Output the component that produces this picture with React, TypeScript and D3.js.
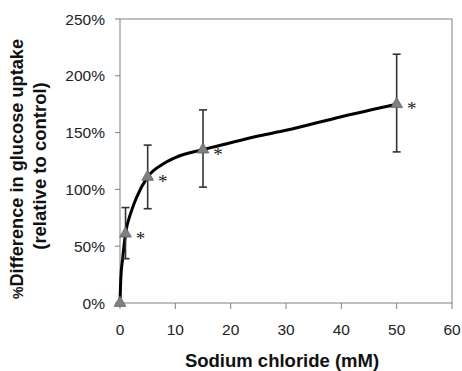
import React from "react";
import * as d3 from "d3";

const concentrations = [0, 1, 5, 15, 50];
const uptakeMeans = [0, 61, 111, 135, 175];
const errLow = [0, 39, 83, 102, 133];
const errHigh = [0, 84, 139, 170, 219];
const significant = [false, true, true, true, true];

// fitted curve
const curveX = [0, 0.15, 0.5, 1, 2, 3, 5, 8, 10, 15, 20, 25, 30, 40, 50];
const curveY = [0, 22, 40, 61, 80, 93, 111, 123, 128, 135, 141, 147, 152, 164, 175];

const xTicks = [0, 10, 20, 30, 40, 50, 60];
const yTicks = [0, 50, 100, 150, 200, 250];

const W = 462;
const H = 371;
const M = { left: 120, right: 10, top: 19, bottom: 68 };

export default function App() {
  const x = d3.scaleLinear().domain([0, 60]).range([M.left, W - M.right]);
  const y = d3.scaleLinear().domain([0, 250]).range([H - M.bottom, M.top]);
  const line = d3
    .line<number>()
    .x((_, i) => x(curveX[i]))
    .y((d) => y(d))
    .curve(d3.curveMonotoneX);
  const tri = d3.symbol().type(d3.symbolTriangle).size(60)();
  const axisColor = "#808080";
  const font = "'Liberation Sans', Arial, sans-serif";
  const x0 = x(0), x1 = x(60), y0 = y(0), y1 = y(250);

  return (
    <svg
      width={W}
      height={H}
      style={{ position: "absolute", left: 0, top: 0, background: "#fff" }}
      fontFamily={font}
    >
      {/* plot frame */}
      <rect x={x0} y={y1} width={x1 - x0} height={y0 - y1} fill="none" stroke={axisColor} strokeWidth={1} />
      {/* y ticks */}
      {yTicks.map((t) => (
        <g key={"y" + t}>
          <line x1={x0 - 5} x2={x0} y1={y(t)} y2={y(t)} stroke={axisColor} />
          <text x={x0 - 15} y={y(t)} dy="0.36em" textAnchor="end" fontSize={15.5} fill="#222">
            {t + "%"}
          </text>
        </g>
      ))}
      {/* x ticks */}
      {xTicks.map((t) => (
        <g key={"x" + t}>
          <line x1={x(t)} x2={x(t)} y1={y0} y2={y0 + 6} stroke={axisColor} />
          <text x={x(t)} y={y0 + 32} textAnchor="middle" fontSize={15.5} fill="#222">
            {t}
          </text>
        </g>
      ))}
      {/* fitted curve */}
      <path d={line(curveY) || ""} fill="none" stroke="#000" strokeWidth={3} />
      {/* error bars */}
      {concentrations.map((c, i) =>
        errHigh[i] > errLow[i] ? (
          <g key={"e" + i} stroke="#333" strokeWidth={1.6}>
            <line x1={x(c)} x2={x(c)} y1={y(errLow[i])} y2={y(errHigh[i])} />
            <line x1={x(c) - 4} x2={x(c) + 4} y1={y(errLow[i])} y2={y(errLow[i])} />
            <line x1={x(c) - 4} x2={x(c) + 4} y1={y(errHigh[i])} y2={y(errHigh[i])} />
          </g>
        ) : null
      )}
      {/* markers */}
      {concentrations.map((c, i) => (
        <path
          key={"m" + i}
          d={tri || ""}
          transform={`translate(${x(c)},${y(uptakeMeans[i])})`}
          fill="#7f7f7f"
          stroke="#666"
          strokeWidth={0.8}
        />
      ))}
      {/* significance */}
      {concentrations.map((c, i) =>
        significant[i] ? (
          <text
            key={"s" + i}
            x={x(c) + 15}
            y={y(uptakeMeans[i]) + 11}
            textAnchor="middle"
            fontSize={19}
            fontFamily="'Liberation Serif', 'Times New Roman', serif"
            fill="#222"
          >
            *
          </text>
        ) : null
      )}
      {/* axis titles */}
      <text x={(x0 + x1) / 2 - 4} y={367} textAnchor="middle" fontSize={18.5} fontWeight="bold" fill="#111">
        Sodium chloride (mM)
      </text>
      <g transform="translate(23,169) rotate(-90)">
        <text textAnchor="middle" fontSize={18.2} fontWeight="bold" fill="#111">
          <tspan fontSize={14}>%</tspan>Difference in glucose uptake
        </text>
      </g>
      <g transform="translate(46,166) rotate(-90)">
        <text textAnchor="middle" fontSize={18.5} fontWeight="bold" fill="#111">
          (relative to control)
        </text>
      </g>
    </svg>
  );
}
